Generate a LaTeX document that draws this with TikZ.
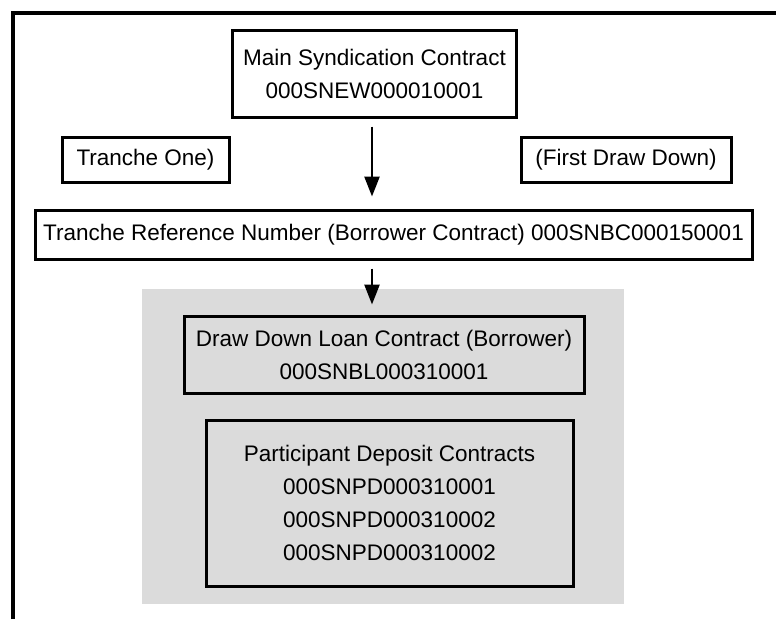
\documentclass[tikz,border=0pt]{standalone}
\usepackage{fontspec}
\setmainfont{Liberation Sans}
\usetikzlibrary{arrows.meta}
\begin{document}
\begin{tikzpicture}[x=1pt,y=-1pt,
  box/.style={draw=black,line width=3pt,fill=white,inner sep=0pt,align=center,
    font=\fontsize{22.5}{33}\selectfont},
  arr/.style={line width=2.6pt,-{Triangle[length=20pt,width=15pt]}},
  frame/.style={line width=4pt}]
\useasboundingbox (0,0) rectangle (776,619);
% outer frame (top and left)
\coordinate (fl) at (13,619);
\coordinate (ftl) at (13,13);
\coordinate (ftr) at (776,13);
\draw[frame] (fl) -- (ftl) -- (ftr);
% gray panel
\fill[gray!28] (142,289) rectangle (624,604);
% nodes
\node[box,minimum width=284pt,minimum height=87pt] (main) at (374.5,73.5)
  {Main Syndication Contract\\000SNEW000010001};
\node[box,minimum width=167pt,minimum height=45pt] (t1) at (145.5,159.5) {Tranche One)};
\node[box,minimum width=210pt,minimum height=45pt] (fd) at (626,159.5) {(First Draw Down)};
\node[box,minimum width=717pt,minimum height=49pt] (tr) at (393.5,234.5)
  {Tranche Reference Number (Borrower Contract) 000SNBC000150001};
\node[box,fill=none,minimum width=400pt,minimum height=77pt] (dd) at (384,354.5)
  {Draw Down Loan Contract (Borrower)\\000SNBL000310001};
\node[box,fill=none,minimum width=367pt,minimum height=166pt,text depth=0pt] (pd) at (389.5,503)
  {Participant Deposit Contracts\\000SNPD000310001\\000SNPD000310002\\000SNPD000310002};
% arrows
\coordinate (ax) at (372,0);
\draw[arr,shorten <=8pt,shorten >=12pt] (main.south -| ax) -- (tr.north -| ax);
\draw[arr,shorten <=8pt,shorten >=10pt] (tr.south -| ax) -- (dd.north -| ax);
\end{tikzpicture}
\end{document}
